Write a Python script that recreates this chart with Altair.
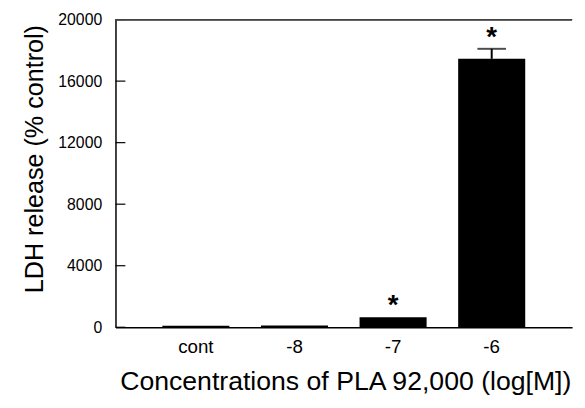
import altair as alt
import pandas as pd

categories = ["cont", "-8", "-7", "-6"]
means = [100, 110, 650, 17450]
errors = [0, 0, 0, 650]
stars = ["", "", "*", "*"]
y_ticks = [0, 4000, 8000, 12000, 16000, 20000]

df = pd.DataFrame({"cat": categories, "mean": means, "err": errors, "star": stars})
df["upper"] = df["mean"] + df["err"]
ticks_df = pd.DataFrame({"v": y_ticks})

W, H = 463, 312
FONT = "Liberation Sans"

xs = alt.X("cat:N", sort=categories,
           scale=alt.Scale(paddingInner=0.32, paddingOuter=0.475),
           axis=alt.Axis(title="Concentrations of PLA 92,000 (log[M])", labelAngle=0,
                         labelFontSize=19, labelPadding=11, ticks=False,
                         titleFontSize=27, titleFontWeight="normal",
                         titleX=233, titleY=63, titleBaseline="alphabetic"))
ys = alt.Y("mean:Q", scale=alt.Scale(domain=[0, 20000], nice=False),
           axis=alt.Axis(title="LDH release (% control)", values=y_ticks, format="d",
                         labelFontSize=16, labelPadding=14, ticks=False, grid=False,
                         titleFontSize=25.5, titleFontWeight="normal",
                         titleX=-74, titleY=141, titleBaseline="alphabetic"))

base = alt.Chart(df)
bars = base.mark_bar(color="black").encode(x=xs, y=ys)
err = base.transform_filter("datum.err > 0").mark_rule(color="black", strokeWidth=2).encode(
    x=alt.X("cat:N", sort=categories), y="mean:Q", y2="upper:Q")
cap = base.transform_filter("datum.err > 0").mark_tick(color="black", size=29, thickness=2).encode(
    x=alt.X("cat:N", sort=categories), y="upper:Q")
star = base.mark_text(font=FONT, fontSize=28, fontWeight="bold", baseline="alphabetic", dy=-3, color="black").encode(
    x=alt.X("cat:N", sort=categories), y="upper:Q", text="star:N")
yt = alt.Chart(ticks_df).mark_rule(color="black", strokeWidth=1.2).encode(
    y=alt.Y("v:Q"), x=alt.value(0), x2=alt.value(10))
top = alt.Chart(ticks_df).mark_rule(color="#444", strokeWidth=1.2).encode(
    y=alt.value(0), x=alt.value(0), x2=alt.value(W))

chart = alt.layer(bars, err, cap, star, yt, top).properties(
    width=W, height=H, autosize="none",
    padding={"left": 109, "top": 9, "right": 5, "bottom": 70}
).configure_view(stroke=None).configure_axis(
    labelFont=FONT, titleFont=FONT, labelColor="black", titleColor="black",
    domainColor="black", domainWidth=1.5
)

chart.save("out.html", embed_options={"renderer": "svg", "actions": False})
